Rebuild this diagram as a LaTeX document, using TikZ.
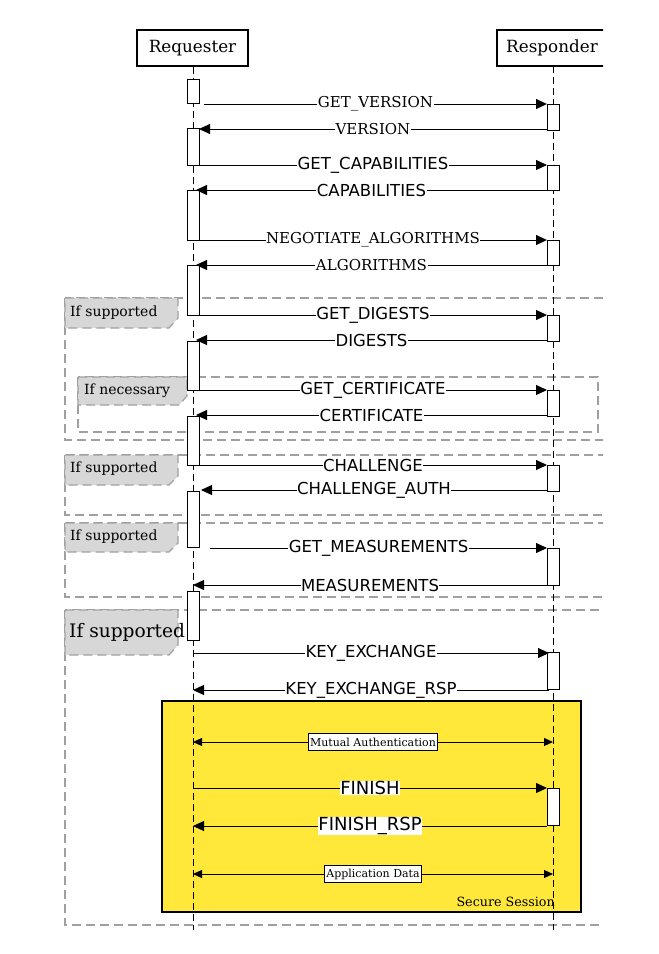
\documentclass[tikz,border=0pt]{standalone}
\usepackage{fontspec}
\setmainfont{DejaVu Serif}
\newfontfamily\sansf{DejaVu Sans}
\usetikzlibrary{arrows.meta}
\definecolor{framegray}{RGB}{160,160,160}
\definecolor{tabgray}{RGB}{215,215,215}
\definecolor{sessyellow}{RGB}{255,232,58}
\tikzset{
  x=1pt, y=-1pt,
  actor/.style={draw, line width=1.1pt, fill=white, minimum width=111pt, minimum height=36pt, font=\fontsize{16.8}{18}\selectfont},
  lifeline/.style={draw, line width=0.9pt, dash pattern=on 7pt off 4pt},
  actbox/.style={draw, line width=0.9pt, fill=white},
  frameline/.style={draw=framegray, line width=1.2pt, dash pattern=on 9pt off 5pt},
  tabshape/.style={fill=tabgray, draw=framegray, line width=1.2pt, dash pattern=on 9pt off 5pt},
  tabtext/.style={anchor=west, inner sep=0pt, font=\fontsize{14}{16}\selectfont},
  msg/.style={draw, line width=1pt, -{Triangle[length=11pt,width=10pt]}},
  dmsg/.style={draw, line width=1pt, {Triangle[length=9pt,width=8pt]}-{Triangle[length=9pt,width=8pt]}},
  lblserif/.style={fill=white, inner sep=0.5pt, font=\fontsize{15}{17}\selectfont},
  lblsans/.style={fill=white, inner sep=0.5pt, font=\sansf\fontsize{16.5}{18}\selectfont},
  lblbig/.style={fill=white, inner sep=0.5pt, font=\sansf\fontsize{18}{20}\selectfont},
  boxlbl/.style={draw, line width=1pt, fill=white, inner sep=2pt, minimum height=17pt, font=\fontsize{11}{12}\selectfont},
}
\begin{document}
\begin{tikzpicture}
\useasboundingbox (0,0) rectangle (659,954);
\begin{scope}
\clip (0,0) rectangle (603,954);

% frames
\draw[frameline] (65,298) rectangle (640,440);
\draw[frameline] (78,377) rectangle (598,432);
\draw[frameline] (65,455) rectangle (640,515);
\draw[frameline] (65,523) rectangle (640,597);
\draw[frameline] (65,610) rectangle (640,925);

\draw[tabshape] (65,298) -- (178,298) -- (178,318) -- (169,328) -- (65,328) -- cycle;
\node[tabtext] (t1) at (70,313) {If supported};
\draw[tabshape] (78,377) -- (187,377) -- (187,396) -- (179,405) -- (78,405) -- cycle;
\node[tabtext] (t2) at (84,391) {If necessary};
\draw[tabshape] (65,455) -- (178,455) -- (178,476) -- (169,485) -- (65,485) -- cycle;
\node[tabtext] (t3) at (70,469) {If supported};
\draw[tabshape] (65,523) -- (178,523) -- (178,543) -- (169,552) -- (65,552) -- cycle;
\node[tabtext] (t4) at (70,537) {If supported};
\draw[tabshape] (65,610) -- (178,610) -- (178,645) -- (169,655) -- (65,655) -- cycle;
\node[tabtext, font=\fontsize{18.6}{20}\selectfont] (t5) at (69,632) {If supported};

% secure session
\draw[line width=1.3pt, fill=sessyellow] (162,701) rectangle (581,912);
\node[anchor=south east, inner sep=0pt, font=\fontsize{12.7}{14}\selectfont] (ss) at (555,907) {Secure Session};

% actors
\node[actor] (req) at (192.5,48) {Requester};
\node[actor, minimum width=118pt] (rsp) at (556,48) {\hspace*{-8pt}Responder};
\coordinate (reqend) at (193,930);
\coordinate (rspend) at (553,930);
\draw[lifeline] (req.south -| 193,0) -- (reqend);
\draw[lifeline] (553,66) -- (rspend);

% activations requester
\foreach \a/\b [count=\i] in {79/103,128/165,190/240,265/315,341/390,416/465,491/547,591/640}{
  \node[actbox, minimum width=12pt, minimum height={\b-\a}, inner sep=0pt] (ra\i) at (193,{(\a+\b)/2}) {};
}
% activations responder
\foreach \a/\b [count=\i] in {104/130,165/190,240/265,315/341,390/416,465/491,548/585,652/689,788/825}{
  \node[actbox, minimum width=12pt, minimum height={\b-\a}, inner sep=0pt] (rb\i) at (553,{(\a+\b)/2}) {};
}
\end{scope}

% messages
\coordinate (m1s) at (204,104); \coordinate (m1e) at (547,104);
\draw[msg] (m1s) -- node[lblserif]{GET\_VERSION} (m1e);
\coordinate (m2s) at (547,129); \coordinate (m2e) at (199,129);
\draw[msg] (m2s) -- node[lblserif]{VERSION} (m2e);
\coordinate (m3s) at (199,165); \coordinate (m3e) at (547,165);
\draw[msg] (m3s) -- node[lblsans]{GET\_CAPABILITIES} (m3e);
\coordinate (m4s) at (547,190); \coordinate (m4e) at (196,190);
\draw[msg] (m4s) -- node[lblsans]{CAPABILITIES} (m4e);
\coordinate (m5s) at (199,240); \coordinate (m5e) at (547,240);
\draw[msg] (m5s) -- node[lblserif]{NEGOTIATE\_ALGORITHMS} (m5e);
\coordinate (m6s) at (547,265); \coordinate (m6e) at (196,265);
\draw[msg] (m6s) -- node[lblserif]{ALGORITHMS} (m6e);
\coordinate (m7s) at (199,315); \coordinate (m7e) at (547,315);
\draw[msg] (m7s) -- node[lblsans]{GET\_DIGESTS} (m7e);
\coordinate (m8s) at (547,340); \coordinate (m8e) at (196,340);
\draw[msg] (m8s) -- node[lblsans]{DIGESTS} (m8e);
\coordinate (m9s) at (199,390); \coordinate (m9e) at (547,390);
\draw[msg] (m9s) -- node[lblsans]{GET\_CERTIFICATE} (m9e);
\coordinate (m10s) at (547,415); \coordinate (m10e) at (196,415);
\draw[msg] (m10s) -- node[lblsans]{CERTIFICATE} (m10e);
\coordinate (m11s) at (199,465); \coordinate (m11e) at (547,465);
\draw[msg] (m11s) -- node[lblsans]{CHALLENGE} (m11e);
\coordinate (m12s) at (547,490); \coordinate (m12e) at (201,490);
\draw[msg] (m12s) -- node[lblsans]{CHALLENGE\_AUTH} (m12e);
\coordinate (m13s) at (210,548); \coordinate (m13e) at (547,548);
\draw[msg] (m13s) -- node[lblsans]{GET\_MEASUREMENTS} (m13e);
\coordinate (m14s) at (547,585); \coordinate (m14e) at (193,585);
\draw[msg] (m14s) -- node[lblsans]{MEASUREMENTS} (m14e);
\coordinate (m15s) at (193,653); \coordinate (m15e) at (549,653);
\draw[msg] (m15s) -- node[lblsans]{KEY\_EXCHANGE} (m15e);
\coordinate (m16s) at (549,690); \coordinate (m16e) at (193,690);
\draw[msg] (m16s) -- node[lblsans]{KEY\_EXCHANGE\_RSP} (m16e);

\coordinate (d1s) at (193,742); \coordinate (d1e) at (553,742);
\draw[dmsg] (d1s) -- node[boxlbl]{Mutual Authentication} (d1e);
\coordinate (m17s) at (193,788); \coordinate (m17e) at (547,788);
\draw[msg] (m17s) -- node[lblbig]{FINISH} (m17e);
\coordinate (m18s) at (547,826); \coordinate (m18e) at (193,826);
\draw[msg] (m18s) -- node[lblbig]{FINISH\_RSP} (m18e);
\coordinate (d2s) at (193,874); \coordinate (d2e) at (553,874);
\draw[dmsg] (d2s) -- node[boxlbl]{Application Data} (d2e);
\end{tikzpicture}
\end{document}
